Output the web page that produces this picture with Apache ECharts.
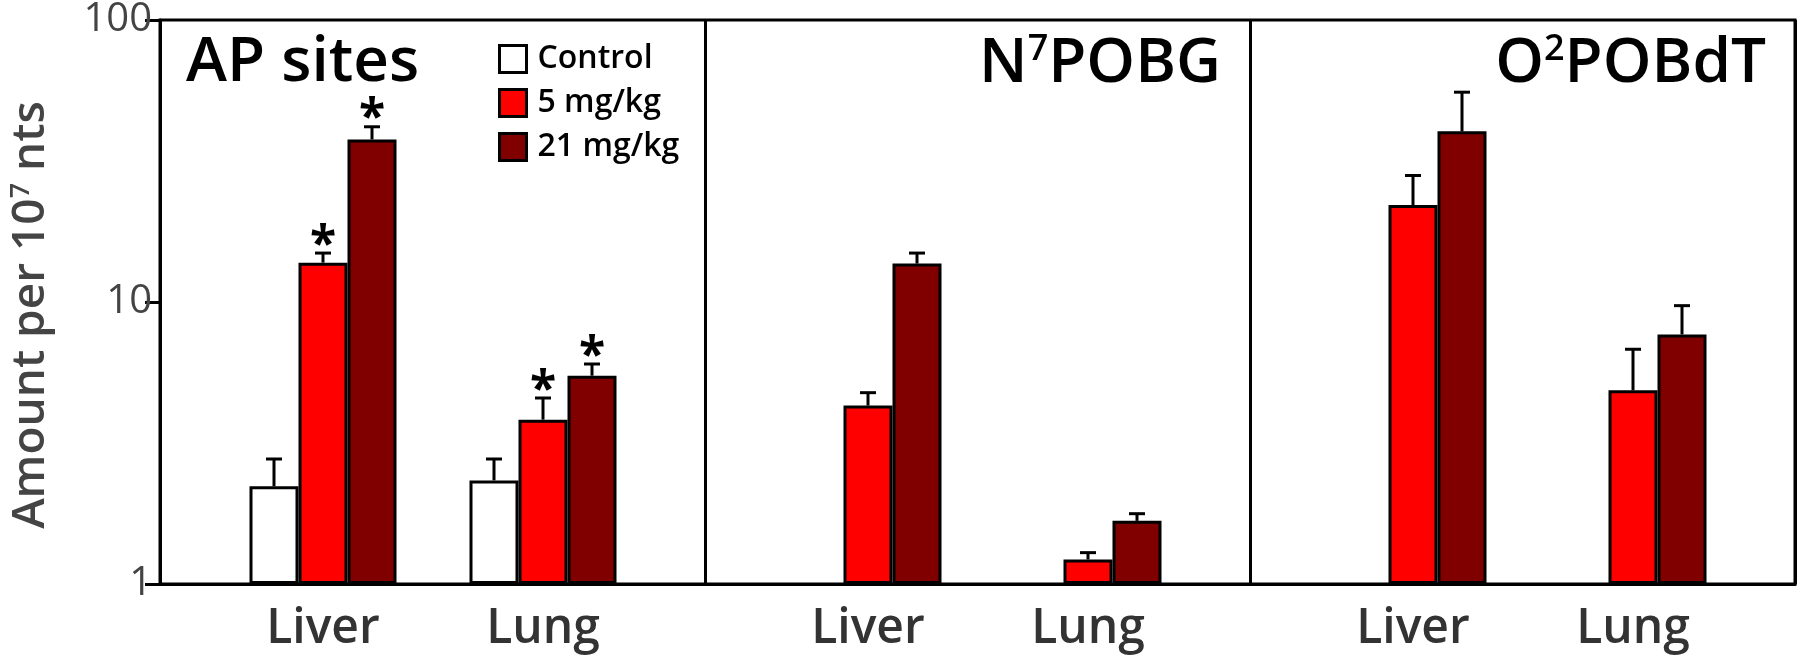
<!DOCTYPE html>
<html>
<head>
<meta charset="utf-8">
<script src="https://cdn.jsdelivr.net/npm/echarts@6/dist/echarts.min.js"></script>
<style>
html,body{margin:0;padding:0;background:#fff;}
#chart{width:1800px;height:662px;}
</style>
</head>
<body>
<div id="chart"></div>
<script>
// ---- data ----
const categories = ['Liver', 'Lung'];
const panelTitles = ['AP sites', 'N{sup|7}POBG', 'O{sup|2}POBdT'];
const seriesNames = ['Control', '5 mg/kg', '21 mg/kg'];
const yTicks = [1, 10, 100];
// values per panel: [Liver, Lung]
const controlMean = [[2.21, 2.32], [null, null], [null, null]];
const controlUpper = [[2.76, 2.76], [null, null], [null, null]];
const dose5Mean = [[13.6, 3.80], [4.26, 1.22], [21.7, 4.82]];
const dose5Upper = [[14.7, 4.53], [4.73, 1.29], [27.6, 6.73]];
const dose21Mean = [[37.0, 5.43], [13.5, 1.67], [39.5, 7.59]];
const dose21Upper = [[41.0, 5.97], [14.7, 1.77], [54.3, 9.59]];
const controlSig = [[false, false], [false, false], [false, false]];
const dose5Sig = [[true, true], [false, false], [false, false]];
const dose21Sig = [[true, true], [false, false], [false, false]];

// ---- style ----
const colors = ['#ffffff', '#ff0000', '#800000'];
const FONT = '"Open Sans", "Noto Sans", sans-serif';
const BAR_W = 49;
const PLOT_L = 160, PLOT_R = 1795, PLOT_T = 17, PLOT_B = 584, W = 1800, H = 662;
const panelW = (PLOT_R - PLOT_L) / 3;
const innerInset = 53;

const means = [controlMean, dose5Mean, dose21Mean];
const uppers = [controlUpper, dose5Upper, dose21Upper];
const sigs = [controlSig, dose5Sig, dose21Sig];

const grid = [{
  left: PLOT_L, right: W - PLOT_R, top: PLOT_T, bottom: H - PLOT_B,
  show: true, borderColor: '#000', borderWidth: 3, backgroundColor: 'transparent', z: 5
}];
const xAxis = [{
  gridIndex: 0, type: 'value', min: 0, max: 3, interval: 1,
  axisLine: {show: true, onZero: false, lineStyle: {color: '#000', width: 3}},
  axisTick: {show: false}, axisLabel: {show: false},
  splitLine: {show: true, lineStyle: {color: '#000', width: 3}}, z: 5
}];
const yAxis = [{
  gridIndex: 0, type: 'log', logBase: 10, min: 1, max: 100,
  axisLine: {show: true, lineStyle: {color: '#000', width: 3}},
  axisTick: {show: true, inside: false, length: 15, lineStyle: {color: '#000', width: 3}},
  axisLabel: {show: true, color: '#444', fontSize: 40, fontFamily: FONT, margin: 8,
    formatter: v => yTicks.indexOf(Math.round(v)) >= 0 ? String(Math.round(v)) : ''},
  splitLine: {show: false},
  name: 'Amount per 10{sup|7} nts', nameLocation: 'middle', nameGap: 106,
  nameTextStyle: {color: '#444', fontSize: 46, fontWeight: 600, fontFamily: FONT, padding: [0, 26, 0, 0],
    rich: {sup: {fontSize: 27, fontWeight: 600, color: '#444', fontFamily: FONT, verticalAlign: 'top', lineHeight: 46}}}
}];
const series = [];

for (let p = 0; p < 3; p++) {
  const gi = p + 1;
  grid.push({left: PLOT_L + p * panelW + innerInset, width: panelW - 2 * innerInset + 1,
    top: PLOT_T, bottom: H - PLOT_B});
  xAxis.push({gridIndex: gi, type: 'category', data: categories,
    axisLine: {show: false}, axisTick: {show: false},
    axisLabel: {color: '#333', fontSize: 48, fontWeight: 600, fontFamily: FONT, margin: 21}});
  yAxis.push({gridIndex: gi, type: 'log', logBase: 10, min: 1, max: 100, show: false});
  for (let s = 0; s < 3; s++) {
    series.push({
      type: 'bar', name: seriesNames[s], xAxisIndex: gi, yAxisIndex: gi,
      barWidth: BAR_W, barGap: '0%',
      itemStyle: {color: colors[s], borderColor: '#000', borderWidth: 3},
      data: means[s][p].map(v => v == null ? '-' : v), z: 2
    });
  }
  for (let s = 0; s < 3; s++) {
    const d = [];
    categories.forEach((c, ci) => {
      if (means[s][p][ci] != null) d.push([ci, means[s][p][ci], uppers[s][p][ci], sigs[s][p][ci] ? 1 : 0]);
    });
    const off = (s - 1) * BAR_W;
    series.push({
      type: 'custom', name: 'err' + s, xAxisIndex: gi, yAxisIndex: gi, z: 3,
      data: d,
      renderItem: (params, api) => {
        const a = api.coord([api.value(0), api.value(1)]);
        const b = api.coord([api.value(0), api.value(2)]);
        const x = a[0] + off;
        const children = [
          {type: 'line', shape: {x1: x, y1: a[1], x2: x, y2: b[1]}, style: {stroke: '#000', lineWidth: 3}},
          {type: 'line', shape: {x1: x - 8, y1: b[1], x2: x + 8, y2: b[1]}, style: {stroke: '#000', lineWidth: 3}}
        ];
        if (api.value(3) === 1) {
          children.push({type: 'text', x: x, y: b[1] + 17,
            style: {text: '*', fill: '#000', font: 'bold 48px ' + FONT, align: 'center', verticalAlign: 'bottom'}});
        }
        return {type: 'group', children: children};
      }
    });
  }
}

const titleStyle = {fontSize: 62, fontWeight: 600, fontFamily: FONT, color: '#000',
  rich: {sup: {fontSize: 36, fontWeight: 600, fontFamily: FONT, color: '#000', verticalAlign: 'top', lineHeight: 64}}};
const title = [
  {text: panelTitles[0], left: 186, top: 32, padding: 0, textStyle: titleStyle},
  {text: panelTitles[1], right: W - (PLOT_L + 2 * panelW) + 29, top: 32, padding: 0, textStyle: titleStyle},
  {text: panelTitles[2], right: W - PLOT_R + 29, top: 32, padding: 0, textStyle: titleStyle}
];

const chart = echarts.init(document.getElementById('chart'), null, {renderer: 'canvas'});
chart.setOption({
  animation: false,
  backgroundColor: '#fff',
  title: title,
  legend: {
    data: seriesNames.map(n => ({name: n, icon: 'rect'})),
    orient: 'vertical', left: 498, top: 43, padding: 0,
    itemWidth: 27, itemHeight: 27, itemGap: 12,
    itemStyle: {borderColor: '#000', borderWidth: 3},
    textStyle: {color: '#000', fontSize: 32, fontWeight: 600, lineHeight: 27, fontFamily: FONT, padding: [0, 0, 0, 6]}
  },
  grid: grid, xAxis: xAxis, yAxis: yAxis, series: series
});
</script>
</body>
</html>
